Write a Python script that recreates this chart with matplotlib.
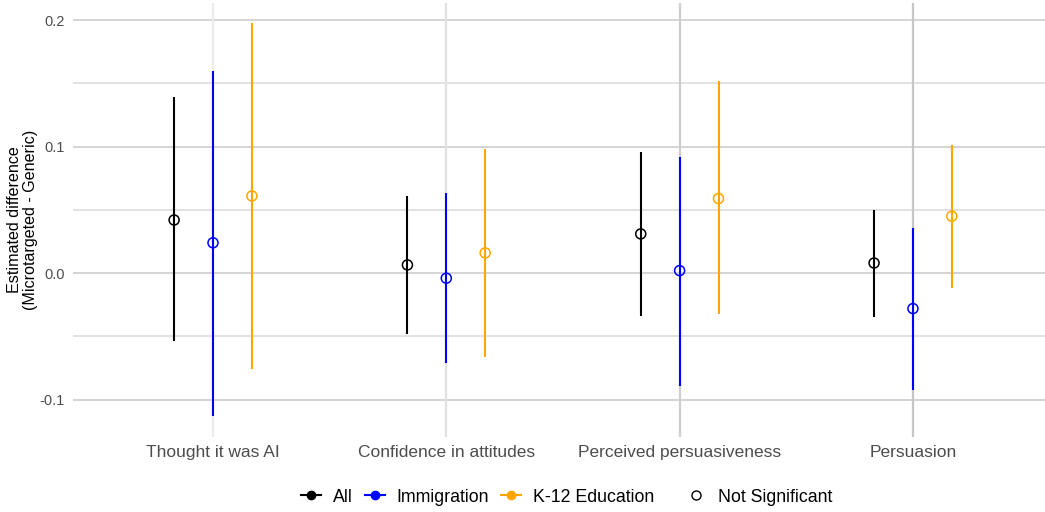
import numpy as np
import matplotlib
matplotlib.use("Agg")
from matplotlib import pyplot as plt
from matplotlib.lines import Line2D

plt.rcParams["font.family"] = ["Liberation Sans", "DejaVu Sans"]

# Outcomes and estimates (Microtargeted - Generic), with 95% CI bounds
outcomes = ["Thought it was AI", "Confidence in attitudes",
            "Perceived persuasiveness", "Persuasion"]
groups = ["All", "Immigration", "K-12 Education"]
colors = {"All": "black", "Immigration": "#0000FF", "K-12 Education": "#FFA500"}

est_all = [0.042, 0.0065, 0.031, 0.008]
lo_all = [-0.054, -0.048, -0.034, -0.035]
hi_all = [0.139, 0.061, 0.096, 0.050]

est_imm = [0.024, -0.004, 0.002, -0.028]
lo_imm = [-0.113, -0.071, -0.089, -0.092]
hi_imm = [0.160, 0.063, 0.092, 0.036]

est_k12 = [0.061, 0.016, 0.059, 0.045]
lo_k12 = [-0.076, -0.066, -0.032, -0.012]
hi_k12 = [0.198, 0.098, 0.152, 0.101]

series = {
    "All": (est_all, lo_all, hi_all),
    "Immigration": (est_imm, lo_imm, hi_imm),
    "K-12 Education": (est_k12, lo_k12, hi_k12),
}

fig = plt.figure(figsize=(10.45, 5.12), dpi=100)
ax = fig.add_axes([73 / 1045, 1 - 437 / 512, 1 - 73 / 1045, 434 / 512])

x = np.arange(1, len(outcomes) + 1)
offsets = {"All": -1 / 6, "Immigration": 0.0, "K-12 Education": 1 / 6}

# grid, drawn by hand so the shades can vary per category
for yv in [0.2, 0.1, 0.0, -0.1]:
    ax.axhline(yv, color="#d4d4d4", lw=1.4, zorder=0)
for yv in [0.15, 0.05, -0.05]:
    ax.axhline(yv, color="#dadada", lw=1.1, zorder=0)
for xv, shade in zip(x, ["#ececec", "#e2e2e2", "#cdcdcd", "#c6c6c6"]):
    ax.axvline(xv, color=shade, lw=1.6, zorder=0)

for g in groups:
    est, lo, hi = series[g]
    xs = x + offsets[g]
    ax.vlines(xs, lo, hi, color=colors[g], lw=1.5, zorder=2)
    ax.scatter(xs, est, s=52, facecolors="none", edgecolors=colors[g],
               linewidths=1.1, zorder=3)

ax.set_xlim(0.4, 4.566)
ax.set_ylim(-0.1295, 0.2135)
ax.set_yticks([-0.1, 0.0, 0.1, 0.2])
ax.set_yticklabels(["-0.1", "0.0", "0.1", "0.2"])
ax.set_xticks(x)
ax.set_xticklabels(outcomes)
ax.tick_params(axis="y", length=0, labelsize=10.5, labelcolor="#4d4d4d", pad=6)
ax.tick_params(axis="x", length=0, labelsize=12.5, labelcolor="#4d4d4d", pad=6)
for s in ax.spines.values():
    s.set_visible(False)
ax.set_ylabel("Estimated difference\n(Microtargeted - Generic)", fontsize=11.6,
              labelpad=1, linespacing=1.12)

handles = [Line2D([0], [0], color=colors[g], lw=1.5, marker="o",
                  markersize=6, markerfacecolor=colors[g]) for g in groups]
leg_kw = dict(frameon=False, fontsize=12.8, handlelength=1.12,
              handletextpad=0.67, columnspacing=0.67, borderpad=0,
              borderaxespad=0)
fig.legend(handles, groups, loc="center left", bbox_to_anchor=(301 / 1045, 0.029),
           ncol=3, **leg_kw)

sig_handle = Line2D([0], [0], color="none", marker="o", markersize=6.5,
                    markerfacecolor="white", markeredgecolor="black")
fig.legend([sig_handle], ["Not Significant"], loc="center left",
           bbox_to_anchor=(686 / 1045, 0.029), **leg_kw)

fig.savefig("out.png", dpi=100, facecolor="white")
